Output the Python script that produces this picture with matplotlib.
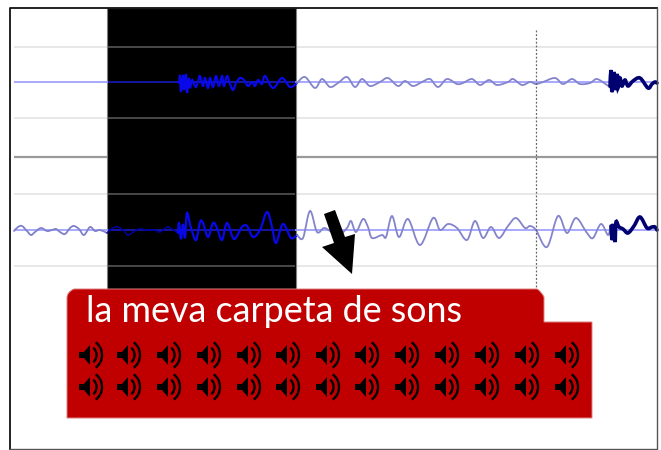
import matplotlib
matplotlib.use('Agg')
import matplotlib.pyplot as plt
from matplotlib.patches import Polygon, Arc, Rectangle, PathPatch
from matplotlib.path import Path

# everything is measured in pixels of the reference picture
grid_light = [47, 118, 194, 266]
grid_mid = 157

top_x = [14, 178, 179, 180, 181, 183, 184, 186, 187, 189, 190, 192, 194, 196, 198, 200, 203, 205, 208, 210, 213,
         216, 219, 222, 224, 227, 230, 233, 236, 240, 244, 248, 252, 255, 258, 262, 265, 273, 282, 290, 297,
         305, 315, 322, 330, 338, 347, 355, 362, 370, 380, 388, 398, 405, 413, 422, 430, 438, 447, 457, 463,
         472, 480, 489, 497, 508, 513, 522, 530, 536, 543, 555, 563, 572, 580, 590, 597, 607, 610, 611, 612,
         614, 615, 617, 618, 620, 622, 625, 628, 633, 640, 648, 652, 655, 657]
top_y = [82, 82, 82, 76, 92, 75, 90, 74, 93, 78, 88, 80, 84, 87, 82, 76, 86, 78, 88, 78, 87,
         76, 86, 76, 86, 76, 84, 90, 83, 78, 80, 86, 82, 86, 80, 84, 76, 88, 78, 87, 83,
         77, 88, 79, 87, 83, 77, 87, 79, 86, 82, 78, 86, 81, 86, 82, 79, 87, 79, 84, 83,
         79, 85, 80, 85, 82, 79, 85, 82, 84, 82, 78, 84, 79, 84, 83, 79, 85, 86, 70, 92,
         72, 90, 74, 88, 78, 86, 80, 86, 81, 78, 88, 84, 82, 83]

low_x = [14, 18, 22, 27, 31, 35, 41, 47, 52, 56, 60, 65, 70, 74, 79, 84, 90, 95, 100, 107, 113, 118, 124, 128,
         135, 140, 147, 155, 160, 167, 172, 178, 179, 181, 183, 185, 187, 191, 196, 200, 203, 208, 213, 217,
         222, 227, 234, 242, 247, 253, 260, 267, 272, 276, 283, 291, 297, 303, 310, 317, 324, 330, 338, 347,
         351, 356, 363, 368, 372, 382, 386, 392, 399, 408, 420, 433, 440, 448, 457, 467, 475, 483, 491, 499,
         508, 516, 525, 530, 536, 547, 558, 567, 576, 587, 593, 601, 608, 611, 612, 613, 615, 616, 619, 623,
         628, 634, 640, 647, 652, 655, 657]
low_y = [231, 227, 226, 231, 235, 232, 228, 231, 230, 229, 232, 234, 228, 226, 229, 235, 227, 231, 230, 233,
         228, 227, 231, 235, 231, 229, 230, 230, 232, 227, 229, 233, 223, 239, 224, 238, 213, 228, 240, 222,
         223, 237, 223, 228, 240, 223, 239, 227, 226, 237, 230, 212, 227, 243, 224, 238, 235, 238, 211, 232,
         228, 231, 236, 228, 221, 232, 219, 227, 238, 235, 237, 216, 237, 219, 245, 218, 230, 224, 228, 240,
         221, 238, 227, 238, 226, 218, 228, 226, 230, 247, 216, 233, 218, 233, 238, 224, 235, 226, 240, 224,
         242, 222, 227, 229, 233, 226, 217, 228, 227, 227, 230]

icon_x = [91, 129, 169, 209, 249, 288, 328, 367, 407, 447, 487, 527, 567]
icon_y = [355, 387]

title = 'la meva carpeta de sons'


def smooth_wave(ax, xs, ys, start, end, color, lw):
    # curve through the read points, bezier handles from the neighbours
    pts = [(x, y) for x, y in zip(xs, ys) if start <= x <= end]
    verts = [pts[0]]
    codes = [Path.MOVETO]
    for i in range(len(pts) - 1):
        p0 = pts[max(i - 1, 0)]
        p1 = pts[i]
        p2 = pts[i + 1]
        p3 = pts[min(i + 2, len(pts) - 1)]
        c1 = (p1[0] + (p2[0] - p0[0]) / 6, p1[1] + (p2[1] - p0[1]) / 6)
        c2 = (p2[0] - (p3[0] - p1[0]) / 6, p2[1] - (p3[1] - p1[1]) / 6)
        verts += [c1, c2, p2]
        codes += [Path.CURVE4, Path.CURVE4, Path.CURVE4]
    ax.add_patch(PathPatch(Path(verts, codes), fc='none', ec=color, lw=lw, zorder=4, capstyle='round'))


def speaker(ax, cx, cy):
    ax.add_patch(Polygon([(cx - 12, cy - 3), (cx - 7, cy - 3), (cx - 1, cy - 10), (cx - 1, cy + 10),
                          (cx - 7, cy + 3), (cx - 12, cy + 3)], closed=True, fc='black', ec='none', zorder=6))
    for w, lim in [(15, 60), (26, 62)]:
        ax.add_patch(Arc((cx - 2, cy), w, w * 1.05 + 2, theta1=-lim, theta2=lim, color='black', lw=1.7, zorder=6))


fig = plt.figure(figsize=(6.61, 4.5), dpi=100)
ax = fig.add_axes([0, 0, 1, 1])
ax.set_xlim(0, 661)
ax.set_ylim(450, 0)
ax.axis('off')

# frame
ax.add_patch(Rectangle((10, 8), 647, 441, fc='white', ec='none', zorder=0))
ax.plot([10, 10, 657], [449, 8, 8], color='#111111', lw=1.3, zorder=8)
ax.plot([657, 657, 10], [8, 449, 449], color='#555555', lw=1.0, zorder=8)

# grid under the black band
ax.hlines(grid_light, 14, 657, color='#e6e6e6', lw=1.3, zorder=1)
ax.hlines(grid_mid, 14, 657, color='#9a9a9a', lw=1.6, zorder=1)

ax.add_patch(Rectangle((107, 8), 189, 282, fc='black', ec='#808080', lw=0.8, zorder=2))
ax.hlines(grid_light, 108, 295, color='#555555', lw=1.2, zorder=3)

# centre lines
ax.hlines([82, 230], 14, 657, color='#9a9aff', lw=1.2, zorder=3)
ax.hlines([82, 230], 108, 295, color='#000090', lw=1.2, zorder=3)

# waves: pale on white, bright on black, dark at the end
for xs, ys in [(top_x, top_y), (low_x, low_y)]:
    smooth_wave(ax, xs, ys, 14, 107, '#8080c8', 1.3)
    smooth_wave(ax, xs, ys, 107, 178, '#0000a0', 1.1)
    smooth_wave(ax, xs, ys, 178, 297, '#0808e8', 1.6)
    smooth_wave(ax, xs, ys, 297, 612, '#8484cc', 1.3)
    smooth_wave(ax, xs, ys, 610, 657, '#000070', 2.6)

# cursor
ax.vlines(536, 30, 290, color='#666666', lw=0.9, linestyles=(0, (1.5, 1.5)), zorder=5)

# arrow
ax.add_patch(Polygon([(324, 214), (335, 210), (345, 237), (355, 234), (352, 274), (322, 247), (334, 243)],
                     closed=True, fc='black', ec='none', zorder=6))

# red folder
verts = [(67, 418), (67, 298), (67, 292), (74, 289), (537, 289), (541, 291), (544, 297), (544, 322),
         (592, 322), (592, 418), (67, 418)]
codes = [Path.MOVETO, Path.LINETO, Path.CURVE3, Path.CURVE3, Path.LINETO, Path.CURVE3, Path.CURVE3,
         Path.LINETO, Path.LINETO, Path.LINETO, Path.CLOSEPOLY]
ax.add_patch(PathPatch(Path(verts, codes), fc='#c00000', ec='#e08080', lw=0.7, zorder=5.5))

ax.text(86, 312, title, color='white', family='Lato', fontsize=25.8, va='center', ha='left', zorder=7)

for cy in icon_y:
    for cx in icon_x:
        speaker(ax, cx, cy)

fig.savefig('out.png', dpi=100, facecolor='white')
